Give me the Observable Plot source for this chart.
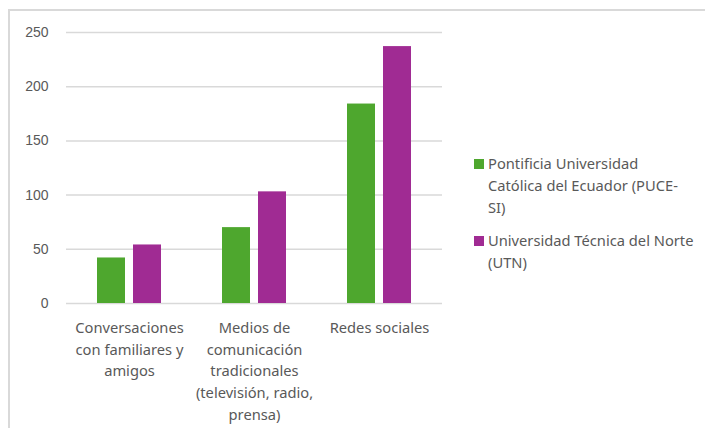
<!DOCTYPE html>
<html>
<head>
<meta charset="utf-8">
<script src="https://cdn.jsdelivr.net/npm/d3@7"></script>
<script src="https://cdn.jsdelivr.net/npm/@observablehq/plot@0.6"></script>
<style>
  html, body { margin: 0; padding: 0; background: #fff; }
  #wrap { position: relative; width: 705px; height: 428px; overflow: hidden; }
  #frame { position: absolute; left: 8px; top: 9px; right: 0; bottom: 0;
           border-top: 2px solid #d9d9d9; border-left: 2px solid #d9d9d9; }
  #chart { position: absolute; left: 0; top: 0; }
  #legend { position: absolute; left: 474px; top: 152px; font-family: "Noto Sans", sans-serif;
            font-size: 14.7px; color: #595959; }
  .item { display: flex; align-items: flex-start; margin-bottom: 11px; }
  .sw { width: 10px; height: 10px; margin-right: 4px; margin-top: 7px; flex: none; }
  .lab { white-space: pre; line-height: 22px; }
</style>
</head>
<body>
<div id="wrap">
  <div id="frame"></div>
  <div id="chart"></div>
  <div id="legend"></div>
</div>
<script>
const categories = [
  "Conversaciones con familiares y amigos",
  "Medios de comunicación tradicionales (televisión, radio, prensa)",
  "Redes sociales"
];
const categoryLabels = [
  "Conversaciones\ncon familiares y\namigos",
  "Medios de\ncomunicación\ntradicionales\n(televisión, radio,\nprensa)",
  "Redes sociales"
];
const seriesNames = [
  "Pontificia Universidad Católica del Ecuador (PUCE-SI)",
  "Universidad Técnica del Norte (UTN)"
];
const legendLabels = [
  "Pontificia Universidad\nCatólica del Ecuador (PUCE-\nSI)",
  "Universidad Técnica del Norte\n(UTN)"
];
const puceValues = [42, 70, 184];
const utnValues = [54, 103, 237];
const yTicks = [0, 50, 100, 150, 200, 250];
const colors = ["#4ea72e", "#a02b93"];

const puce = categories.map((c, i) => ({cat: c, value: puceValues[i]}));
const utn = categories.map((c, i) => ({cat: c, value: utnValues[i]}));
const labelOf = new Map(categories.map((c, i) => [c, categoryLabels[i]]));

const plot = Plot.plot({
  width: 705,
  height: 428,
  marginLeft: 66,
  marginRight: 263,
  marginTop: 32,
  marginBottom: 125,
  style: {background: "transparent", color: "#595959"},
  x: {domain: categories, paddingInner: 0.489, paddingOuter: 0.245, axis: null},
  y: {domain: [0, 250], ticks: yTicks, axis: null},
  marks: [
    Plot.gridY(yTicks, {stroke: "#d9d9d9", strokeOpacity: 1, strokeWidth: 1.5}),
    Plot.axisY(yTicks, {tickSize: 0, tickPadding: 18, fontSize: 14, fill: "#595959",
      fontFamily: "Liberation Sans, Arial, sans-serif", label: null}),
    Plot.barY(puce, {x: "cat", y: "value", fill: colors[0], insetRight: 36}),
    Plot.barY(utn, {x: "cat", y: "value", fill: colors[1], insetLeft: 36}),
    Plot.text(categories, {x: d => d, frameAnchor: "bottom", lineAnchor: "top", dy: 14,
      text: d => labelOf.get(d), fontSize: 14.7, lineHeight: 1.48, fill: "#595959",
      fontFamily: "Noto Sans, sans-serif"})
  ]
});
document.getElementById("chart").appendChild(plot);

const legend = document.getElementById("legend");
seriesNames.forEach((name, i) => {
  const item = document.createElement("div");
  item.className = "item";
  item.title = name;
  const sw = document.createElement("div");
  sw.className = "sw";
  sw.style.background = colors[i];
  const lab = document.createElement("div");
  lab.className = "lab";
  lab.textContent = legendLabels[i];
  item.appendChild(sw);
  item.appendChild(lab);
  legend.appendChild(item);
});
</script>
</body>
</html>
